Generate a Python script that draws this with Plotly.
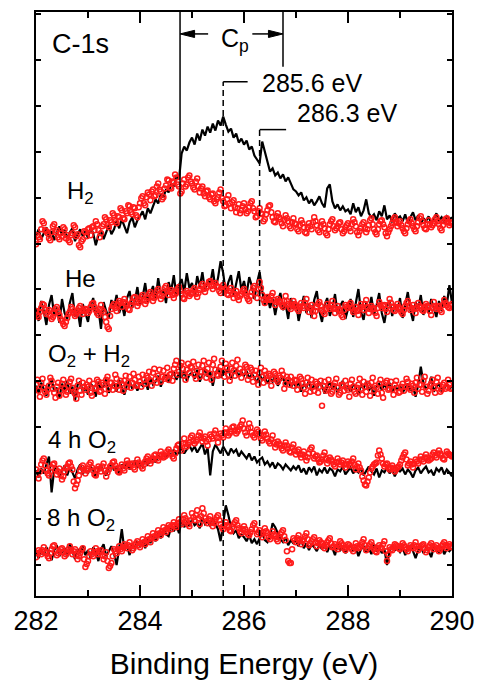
import numpy as np
import plotly.graph_objects as go

# Energy grids (eV): solid traces every 0.05 eV, open-circle traces every 0.025 eV
E_START = 282.0
E_STEP_LINE = 0.05
E_STEP_OPEN = 0.025

# Sample labels (top to bottom) and the vertical offset applied to each spectrum
SAMPLES = ["H<sub>2</sub>", "He", "O<sub>2</sub> + H<sub>2</sub>", "4 h O<sub>2</sub>", "8 h O<sub>2</sub>"]
OFFSETS = [325, 253, 177, 93, 12]

# C-1s intensities (arb. units, relative to each baseline); *_LINE = solid trace, *_OPEN = open circles
H2_LINE = [
    5, 12, 2, 9, 14, 4, 10, 1, 8, 15, 6, 11, 3, 9, 13, 0, 7, 12, 5, 10,
    3, 14, 8, -4, 6, 11, 2, 9, 16, 7, 12, 20, 13, 22, 15, 8, 19, 24, 14, 21,
    25, 30, 22, 33, 28, 36, 42, 38, 47, 44, 52, 49, 58, 55, 66, 62, 88, 95, 91, 99,
    104, 97, 108, 101, 112, 106, 115, 109, 118, 111, 121, 116, 125, 117, 110, 113, 104, 108, 99, 103,
    97, 101, 92, 95, 86, 82, 78, 100, 90, 79, 70, 73, 66, 69, 63, 67, 60, 64, 57, 52,
    50, 46, 49, 41, 44, 38, 42, 36, 40, 45, 38, 34, 53, 57, 40, 33, 37, 31, 35, 30,
    32, 27, 38, 29, 34, 25, 31, 42, 28, 24, 27, 21, 30, 25, 36, 22, 26, 19, 28, 23,
    25, 20, 27, 18, 24, 29, 21, 26, 17, 23, 20, 25, 18, 22, 28, 21, 24, 19, 25, 22,
    24,
]
H2_OPEN = [
    -3, 6, 4, 2, 12, 20, 18, 11, 10, 8, 3, 1, 9, 15, 17, 9, 11, 4, 2, 8, 5, 14, 12, 3, 6, 1, -1, 6, 8, 16, 14, 5, 7, -4, -6, 0, 2, 10, 9, 5,
    12, 13, 6, 14, 15, 11, 20, 17, 11, 4, 8, 15, 17, 24, 22, 16, 14, 21, 19, 28, 26, 20, 18, 25, 24, 33, 31, 23, 22, 30, 28, 36, 35, 29, 27, 34, 33, 26, 24, 34,
    38, 43, 45, 38, 36, 44, 49, 47, 41, 50, 52, 45, 46, 55, 58, 52, 50, 42, 44, 53, 56, 62, 61, 54, 53, 60, 59, 67, 64, 57, 55, 48, 50, 58, 62, 55, 57, 64, 66, 60,
    58, 54, 52, 60, 63, 55, 49, 53, 55, 48, 45, 50, 51, 44, 42, 47, 48, 40, 38, 42, 44, 49, 52, 43, 40, 35, 36, 42, 46, 38, 33, 39, 41, 34, 29, 33, 37, 28, 31, 35,
    38, 32, 28, 30, 34, 38, 40, 33, 30, 24, 25, 30, 33, 28, 27, 20, 22, 27, 31, 35, 36, 29, 24, 20, 19, 25, 28, 24, 22, 18, 15, 21, 26, 23, 20, 15, 13, 19, 23, 18,
    17, 12, 10, 16, 21, 18, 14, 9, 8, 14, 18, 15, 12, 19, 24, 20, 16, 11, 9, 15, 20, 17, 13, 8, 6, 12, 17, 20, 22, 15, 11, 13, 15, 18, 19, 12, 8, 10, 14, 16,
    18, 13, 10, 17, 22, 19, 15, 9, 6, 10, 13, 17, 19, 13, 9, 12, 16, 21, 23, 17, 12, 9, 7, 12, 17, 20, 21, 17, 14, 8, 5, 9, 12, 15, 18, 22, 24, 19, 15, 18,
    20, 16, 13, 10, 8, 13, 17, 20, 22, 18, 15, 12, 10, 15, 19, 23, 25, 20, 16, 13, 12, 17, 21, 17, 14, 16, 18, 22, 24, 20, 17, 13, 11, 16, 20, 22, 23, 19, 16, 18,
    19,
]
HE_LINE = [
    5, -8, 12, 2, -12, 8, 18, -3, 6, -10, 14, 0, -6, 10, 20, -4, 3, -14, 9, 1,
    -9, 7, 15, -2, 4, -16, 11, 2, -5, 13, 6, 18, 0, 9, -3, 15, 22, 5, 12, 26,
    8, 16, 30, 11, 20, 27, 14, 35, 19, 24, 10, 31, 22, 38, 17, 28, 34, 21, 40, 25,
    30, 18, 37, 26, 41, 22, 33, 29, 44, 24, 35, 52, 40, 20, 31, 38, 17, 29, 42, 23,
    32, 19, 36, 27, 14, 30, 41, 22, 8, 18, 5, 14, -2, 12, 20, 3, 9, -6, 15, 4,
    11, -8, 6, 17, 0, 9, -5, 13, 22, 2, -9, 8, 15, -3, 5, 19, -1, 7, 12, -6,
    4, 14, -4, 9, 24, 1, -7, 10, 3, 16, -2, 8, 20, 0, -10, 6, 13, -3, 9, 2,
    15, -5, 7, 21, 3, -8, 11, 4, 18, -2, 9, 0, 14, 6, -4, 12, 2, 17, 8, 28,
    10,
]
HE_OPEN = [
    2, -2, -4, 1, 5, 9, 8, 3, -1, 1, 3, -3, -6, -4, 0, 4, 6, 1, -2, -6, -8, -11, -13, -9, -5, -1, 1, 6, 4, 0, -3, -1, 2, 5, 7, 2, -1, 2, 4, 3,
    0, 2, 6, 9, 10, 6, 3, 0, -2, 4, 8, 3, 1, -4, -9, -14, -16, -3, 4, 7, 9, 5, 2, 8, 12, 10, 6, 11, 14, 10, 8, 4, 3, 8, 11, 15, 16, 11, 7, 10,
    13, 16, 18, 13, 9, 12, 15, 19, 21, 16, 12, 15, 17, 22, 24, 18, 14, 17, 20, 25, 27, 22, 18, 21, 23, 18, 15, 19, 21, 24, 26, 22, 19, 15, 14, 19, 22, 20, 17, 19,
    20, 23, 25, 19, 16, 20, 23, 27, 29, 24, 21, 25, 27, 31, 32, 27, 24, 28, 30, 27, 26, 22, 20, 25, 28, 25, 23, 19, 18, 22, 25, 19, 15, 19, 22, 16, 13, 17, 19, 22,
    24, 20, 17, 14, 12, 17, 21, 25, 27, 20, 15, 24, 31, 25, 18, 13, 10, 13, 16, 14, 13, 17, 20, 13, 8, 11, 14, 12, 11, 8, 6, 12, 17, 12, 9, 6, 4, 8, 12, 9,
    7, 4, 2, 6, 10, 7, 5, 10, 14, 7, 1, 5, 8, 2, -3, 2, 6, 9, 11, 7, 3, 1, -1, 4, 9, 6, 4, 8, 12, 5, 0, 4, 7, 4, 2, -2, -4, 3, 8, 6,
    5, 8, 10, 5, 1, 3, 6, 2, -2, 4, 9, 6, 3, 9, 13, 6, 0, 4, 7, 5, 4, 0, -3, 5, 11, 8, 5, 7, 8, 4, 1, 8, 14, 10, 6, 3, 2, 6, 9, 6,
    4, 1, -1, 3, 7, 10, 12, 7, 3, 5, 8, 4, 0, 5, 10, 7, 5, 3, 2, 6, 9, 7, 6, 2, -2, 5, 11, 7, 4, 6, 7, 3, 1, 8, 13, 10, 8, 6, 5, 7,
    9,
]
O2H2_LINE = [
    3, -4, 6, 0, -7, 4, 9, -2, 1, -9, 5, -1, 8, -5, 2, -12, 4, 7, -3, 1,
    -6, 5, 2, -8, 7, -1, 3, 10, -4, 2, 6, -3, 9, 1, -6, 4, 8, 0, 5, -2,
    6, 3, 9, -1, 11, 4, 7, 13, 2, 10, 14, 6, 12, 17, 9, 15, 11, 18, 8, 14,
    16, 10, 19, 7, 14, 20, 12, 17, 3, 15, 21, 11, 18, 14, 22, 9, 16, 19, 12, 17,
    13, 18, 10, 15, 11, 6, 14, 9, 12, 5, 10, 7, 13, 3, 8, 11, 4, 9, 1, 6,
    2, 7, -3, 5, 1, 8, -2, 4, 0, 6, 3, -5, 2, 7, -1, 4, -4, 3, 8, 0,
    2, -3, 5, 1, -6, 4, 0, 7, -2, 3, -7, 2, 5, -1, 4, 0, 6, -3, 2, -1,
    3, -4, 1, 5, -2, 2, -8, 4, 22, 6, -1, 3, 12, -3, 2, 5, -2, 1, 4, 0,
    2,
]
O2H2_OPEN = [
    4, 9, -2, -8, 6, 10, 1, -3, -6, -1, 3, 11, 8, 0, -4, -9, 2, 6, -7, -2, 5, 9, 0, -6, -3, 3, 7, 10, 1, -3, -5, -10, 3, 8, -2, -6, 6, 2, -1, 4,
    2, 8, -4, -7, 5, 0, 1, 9, 7, -3, -2, 6, 4, -5, 9, 12, 0, 6, 6, -1, 3, 14, 10, 3, -1, 8, 5, -2, 8, 13, 2, 6, 12, 1, 6, 15, 9, 3, 4, 12,
    7, 2, 14, 9, 5, 13, 11, 17, 8, 3, 16, 20, 10, 6, 13, 19, 7, 12, 18, 10, 12, 21, 9, 14, 15, 8, 20, 24, 28, 14, 17, 23, 26, 20, 13, 9, 19, 25, 16, 22,
    21, 27, 14, 10, 18, 24, 12, 17, 23, 28, 17, 11, 20, 26, 15, 9, 24, 30, 19, 14, 13, 18, 22, 28, 17, 12, 25, 21, 14, 8, 20, 26, 18, 13, 23, 29, 15, 20, 11, 17,
    17, 24, 22, 9, 13, 21, 19, 7, 14, 18, 10, 4, 16, 21, 12, 6, 18, 14, 8, 15, 13, 3, 10, 17, 15, 9, 7, 13, 11, 18, 14, 0, 5, 12, 9, 4, 12, 7, 3, 9,
    8, -1, 4, 12, 10, 5, 1, -5, 6, 11, 3, -3, 9, 2, -2, 7, 5, -4, 2, 8, -17, 3, 7, -2, 0, 9, 4, -5, -3, 3, 6, 10, 1, -6, -4, 4, 3, -2, 8, 1,
    -1, -8, 5, 9, 2, -3, -5, 1, 4, 10, 0, -6, 7, 2, -3, 5, 3, -7, 6, 11, -2, 3, 1, -5, 5, 9, -4, -9, 2, 6, 8, -1, 0, 7, -1, -6, 4, 8, 1, -4,
    -3, 2, 5, -2, 2, 10, 7, 1, -1, 5, 3, -4, 6, 11, 0, 4, 4, -3, 8, 12, 2, -5, -2, 3, 5, 9, 1, -4, 7, 11, 3, -3, -1, 4, 6, 0, 2, 9, 4, 0,
    1,
]
O4H_LINE = [
    2, -5, 4, -1, 8, 16, -20, 3, 6, -4, 1, 7, -3, 5, 0, -6, 3, 8, -2, 4,
    -1, 6, 2, -5, 3, 7, 0, -3, 5, 9, 2, 6, -2, 8, 4, 10, 3, 7, 12, 5,
    9, 6, 13, 8, 11, 15, 10, 17, 13, 19, 14, 21, 16, 23, 18, 20, 25, 19, 23, 27,
    22, 26, 20, 24, 29, 18, 25, -3, 21, 28, 24, 19, 26, 21, 17, 24, 20, 23, 16, 21,
    18, 14, 19, 12, 16, 10, 13, 15, 8, 11, 6, 10, 4, 9, 7, 3, 8, 5, 2, 6,
    3, 7, 0, 4, -2, 5, 1, 6, -3, 3, 0, 5, -1, 4, 2, -4, 3, 1, 6, -2,
    2, 5, -1, 3, 0, 4, -3, 2, 6, 1, -2, 4, -5, 2, 0, 5, -1, 3, -4, 2,
    1, 4, -2, 3, 0, -5, 2, 5, -1, 3, 6, 0, 2, -3, 4, 1, 5, -2, 3, 0,
    -4,
]
O4H_OPEN = [
    3, -2, -6, 1, 8, 12, 14, 7, 2, -1, -3, 1, 5, 8, 9, 3, -2, 1, 4, -3, -7, -4, 1, 4, 6, 9, 10, 6, 3, -9, -16, -12, -8, -3, 2, 5, 7, 3, -1, 2,
    4, 8, 10, 5, 2, -2, -3, 3, 6, 4, 1, 6, 9, 2, -4, 0, 3, 6, 7, 10, 11, 7, 4, 1, 0, 5, 8, 4, 2, 8, 12, 9, 6, 8, 9, 5, 3, 9, 13, 10,
    8, 6, 4, 8, 11, 14, 16, 12, 9, 12, 14, 17, 18, 14, 12, 17, 21, 18, 15, 16, 17, 21, 23, 20, 19, 16, 14, 19, 24, 27, 28, 24, 22, 29, 34, 29, 26, 28, 30, 35,
    37, 32, 29, 31, 33, 37, 40, 35, 31, 34, 36, 31, 27, 33, 38, 36, 34, 39, 42, 35, 30, 35, 39, 37, 35, 40, 44, 40, 37, 39, 41, 45, 46, 42, 39, 41, 43, 46, 48, 52,
    44, 40, 37, 44, 49, 45, 40, 37, 35, 39, 43, 41, 38, 34, 32, 37, 41, 38, 34, 31, 29, 33, 37, 30, 25, 28, 31, 29, 27, 24, 22, 27, 30, 27, 24, 21, 20, 25, 28, 22,
    18, 21, 23, 18, 15, 18, 21, 16, 12, 15, 19, 23, 25, 19, 14, 16, 17, 13, 10, 11, 13, 17, 20, 14, 9, 12, 15, 13, 11, 8, 6, 10, 14, 11, 8, 10, 12, 8, 5, 8,
    11, 9, 7, 11, 14, 8, 3, 6, 9, 5, 2, -4, -8, -12, -13, -9, -5, 0, 4, 6, 8, 9, 10, 17, 22, 18, 14, 9, 6, 8, 9, 5, 3, 5, 7, 4, 1, 3, 5, 6,
    8, 12, 15, 18, 20, 13, 7, 9, 11, 8, 5, 9, 13, 11, 9, 13, 16, 13, 11, 15, 18, 15, 12, 13, 14, 18, 20, 17, 15, 19, 22, 19, 17, 14, 13, 17, 21, 19, 18, 17,
    16,
]
O8H_LINE = [
    2, -5, 4, -2, 6, 0, -7, 3, 8, -3, 1, 5, -4, 9, 2, -6, 4, 0, 7, -2,
    3, -5, 6, 1, -8, 4, 9, -3, 2, 7, 0, -12, 5, 24, 3, 8, -2, 10, 4, 12,
    7, 13, 5, 16, 10, 18, 12, 21, 15, 24, 19, 17, 26, 22, 28, 20, 33, 26, 31, 27,
    34, 28, 30, 25, 36, 29, 32, 27, 35, 30, 24, 12, 30, 48, 38, 26, 20, 23, 15, 19,
    16, 12, 18, 10, 14, 9, 15, 20, 13, 11, 17, 30, 26, 19, 14, 11, 16, 8, 13, 10,
    12, 7, 14, 5, 10, 3, 9, 6, 2, 8, 4, 11, 1, 7, 5, -2, 9, 3, 6, 0,
    5, 8, 2, 6, -3, 4, 7, 1, 5, -1, 9, 3, 6, 0, 4, -12, 2, 7, 3, 5,
    1, 6, -2, 4, 8, 2, -5, 3, 7, 0, 5, 2, -4, 6, 3, 1, 7, -1, 4, 2,
    5,
]
O8H_OPEN = [
    -4, 0, 3, 1, -1, 3, 6, 2, 0, -3, -5, 0, 4, 7, 8, 3, -2, 0, 2, 4, 5, 1, -3, -1, 1, 4, 7, 3, -1, 2, 4, -2, -6, -3, 0, 3, 5, -6, -14, -11,
    -8, -3, 2, -1, -3, 1, 5, 2, -1, 1, 3, -2, -6, -3, 1, -8, -15, -13, -10, -3, 4, 2, 0, 4, 7, 4, 2, 6, 9, 7, 5, 8, 11, 7, 3, 5, 8, 10, 12, 8,
    6, 10, 14, 11, 9, 13, 17, 14, 11, 16, 20, 17, 15, 19, 23, 20, 18, 22, 26, 23, 21, 25, 28, 26, 24, 28, 31, 28, 26, 30, 34, 31, 29, 34, 38, 35, 32, 29, 27, 33,
    40, 36, 33, 38, 43, 35, 29, 37, 45, 40, 35, 32, 30, 34, 37, 31, 27, 30, 33, 36, 38, 33, 29, 26, 24, 28, 31, 28, 26, 23, 22, 26, 29, 31, 33, 28, 25, 22, 20, 24,
    27, 24, 21, 19, 18, 21, 24, 28, 30, 24, 19, 21, 23, 19, 16, 21, 25, 22, 20, 16, 14, 18, 22, 19, 17, 14, 12, 16, 19, 21, 23, 17, 13, 2, -8, -10, -10, 4, 15, 13,
    11, 15, 18, 13, 9, 12, 14, 17, 20, 14, 8, 10, 12, 14, 16, 11, 7, 10, 13, 11, 10, 7, 5, 8, 11, 13, 15, 10, 6, 7, 9, 6, 4, 8, 12, 10, 8, 5, 3, 6,
    9, 8, 6, 4, 2, 6, 10, 7, 5, 6, 8, 11, 14, 8, 3, 5, 7, 9, 11, 7, 4, 2, 1, 5, 8, 6, 5, 9, 12, 2, -8, -1, 6, 4, 3, 6, 9, 8, 7, 5,
    4, 7, 10, 8, 6, 4, 2, 5, 8, 6, 5, 8, 11, 7, 3, 5, 7, 8, 9, 5, 1, 3, 6, 8, 10, 7, 4, 6, 8, 5, 2, 4, 7, 9, 11, 8, 5, 7, 9, 7,
    6,
]

LINES = [H2_LINE, HE_LINE, O2H2_LINE, O4H_LINE, O8H_LINE]
OPENS = [H2_OPEN, HE_OPEN, O2H2_OPEN, O4H_OPEN, O8H_OPEN]

# Reference energies marked on the plot (eV)
E_CP_LOW = 284.77
E_CP_HIGH = 286.75
E_PEAK_A = 285.6
E_PEAK_B = 286.3

Y_MIN, Y_MAX = -31, 555
FONT = "Liberation Sans, Arial, Helvetica, sans-serif"


def energies(n, step):
    return E_START + step * np.arange(n)


fig = go.Figure()
for base, line_vals, open_vals in zip(OFFSETS, LINES, OPENS):
    fig.add_trace(go.Scatter(
        x=energies(len(line_vals), E_STEP_LINE), y=base + np.asarray(line_vals),
        mode="lines", line=dict(color="black", width=2.2), showlegend=False,
    ))
    fig.add_trace(go.Scatter(
        x=energies(len(open_vals), E_STEP_OPEN), y=base + np.asarray(open_vals),
        mode="markers",
        marker=dict(symbol="circle-open", size=5, color="#ff1a1a", line=dict(width=1.5, color="#ff1a1a")),
        showlegend=False,
    ))


def vline(x, y0, y1, dash=None):
    return dict(type="line", xref="x", yref="y", x0=x, x1=x, y0=y0, y1=y1,
                line=dict(color="black", width=1.5, dash=dash))


def hline(x0, x1, y):
    return dict(type="line", xref="x", yref="y", x0=x0, x1=x1, y0=y, y1=y,
                line=dict(color="black", width=1.5))


def arrow_head(tip_x, y, direction, length=0.28, half=3.6):
    base_x = tip_x - direction * length
    return dict(type="path", xref="x", yref="y",
                path=f"M {tip_x},{y} L {base_x},{y + half} L {base_x},{y - half} Z",
                fillcolor="black", line=dict(color="black", width=1))


ARROW_Y = 533
shapes = [
    vline(E_CP_LOW, Y_MIN, Y_MAX),
    vline(E_CP_HIGH, 500, Y_MAX),
    vline(E_PEAK_A, Y_MIN, 485, dash="6px,4px"),
    vline(E_PEAK_B, Y_MIN, 437, dash="6px,4px"),
    hline(E_PEAK_A, 286.07, 485),
    hline(E_PEAK_B, 286.81, 437),
    # C_p double arrow
    hline(285.31, E_CP_LOW + 0.2, ARROW_Y),
    arrow_head(E_CP_LOW, ARROW_Y, -1),
    hline(286.16, E_CP_HIGH - 0.2, ARROW_Y),
    arrow_head(E_CP_HIGH, ARROW_Y, 1),
]

txt = dict(family=FONT, color="black")
annotations = [
    dict(x=282.27, y=523, text="C-1s", font=dict(txt, size=27)),
    dict(x=286.3, y=484, text="285.6 eV", font=dict(txt, size=25)),
    dict(x=286.98, y=454, text="286.3 eV", font=dict(txt, size=25)),
    dict(x=285.52, y=527, text="C<sub>p</sub>", font=dict(txt, size=25)),
]
label_pos = [(282.55, 374), (282.52, 288), (282.2, 210), (282.2, 124), (282.17, 46)]
for (lx, ly), name in zip(label_pos, SAMPLES):
    annotations.append(dict(x=lx, y=ly, text=name, font=dict(txt, size=24)))
for a in annotations:
    a.update(xref="x", yref="y", xanchor="left", yanchor="middle", showarrow=False)

fig.update_layout(
    width=485, height=694,
    margin=dict(l=36, r=28, t=10, b=98),
    paper_bgcolor="white", plot_bgcolor="white",
    font=dict(family=FONT, color="black"),
    shapes=shapes, annotations=annotations,
)
fig.update_xaxes(
    range=[282, 290], tickvals=[282, 284, 286, 288, 290],
    ticks="inside", ticklen=11, tickwidth=1.5, tickcolor="black",
    minor=dict(dtick=1, ticks="inside", ticklen=6, tickwidth=1.5, tickcolor="black", showgrid=False),
    showline=True, linewidth=2, linecolor="black", mirror="allticks",
    showgrid=False, zeroline=False,
    tickfont=dict(size=27),
    title=dict(text="Binding Energy (eV)", font=dict(size=30), standoff=18),
)
fig.update_yaxes(
    range=[Y_MIN, Y_MAX], tick0=0, dtick=46.1, showticklabels=False,
    ticks="inside", ticklen=5, tickwidth=1.5, tickcolor="black",
    showline=True, linewidth=2, linecolor="black", mirror="allticks",
    showgrid=False, zeroline=False,
)

fig.write_html("out.html")
